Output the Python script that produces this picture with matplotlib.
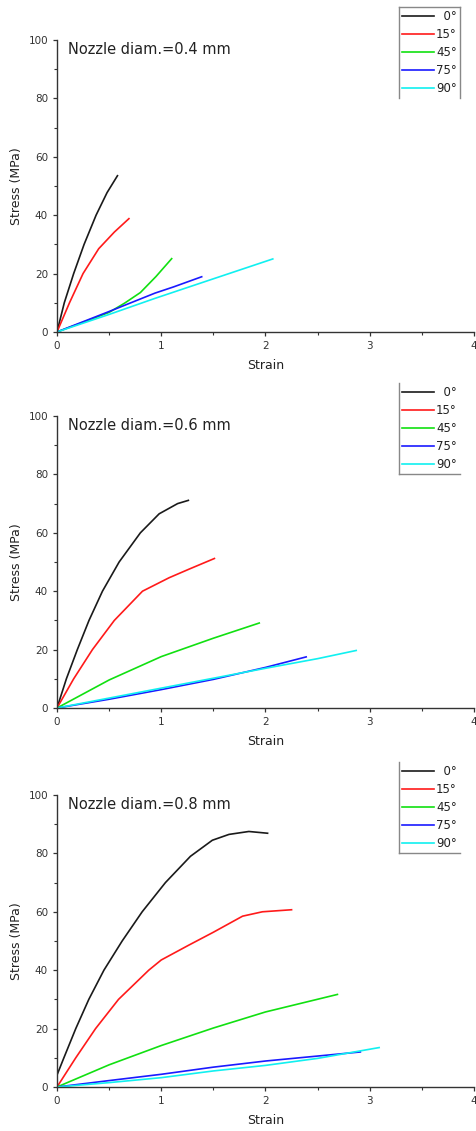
import matplotlib
matplotlib.use('Agg')
import matplotlib.pyplot as plt
from matplotlib.lines import Line2D
from matplotlib.ticker import MultipleLocator

plt.rcParams['font.family'] = ['DejaVu Sans']

angles = ['0°', '15°', '45°', '75°', '90°']
nozzles = ['0.4', '0.6', '0.8']

# nozzle 0.4 mm: strain / stress (MPa) per raster angle
eps_04 = [
    [0, 0.07, 0.16, 0.26, 0.375, 0.48, 0.58],
    [0, 0.12, 0.25, 0.4, 0.55, 0.69],
    [0, 0.25, 0.5, 0.65, 0.8, 0.95, 1.10],
    [0, 0.25, 0.5, 0.94, 1.116, 1.388],
    [0, 0.5, 0.94, 1.5, 2.07],
]
sig_04 = [
    [0, 10, 20, 30, 40, 47.7, 53.5],
    [0, 10, 20, 28.5, 34.2, 38.8],
    [0, 3.3, 6.7, 9.9, 13.5, 19.0, 25.1],
    [0, 3.5, 7.0, 13.3, 15.4, 18.9],
    [0, 6.0, 11.5, 18.2, 25.0],
]

# nozzle 0.6 mm
eps_06 = [
    [0, 0.09, 0.195, 0.307, 0.436, 0.596, 0.80, 0.98, 1.157, 1.26],
    [0, 0.16, 0.34, 0.55, 0.82, 1.075, 1.27, 1.51],
    [0, 0.5, 1.0, 1.5, 1.94],
    [0, 0.5, 1.0, 1.5, 2.0, 2.39],
    [0, 0.5, 1.0, 1.5, 2.0, 2.5, 2.87],
]
sig_06 = [
    [0, 10, 20, 30, 40, 50, 60, 66.5, 70, 71.1],
    [0, 10, 20, 30, 40, 44.6, 47.6, 51.2],
    [0, 9.6, 17.6, 23.9, 29.1],
    [0, 3.0, 6.3, 9.8, 13.9, 17.5],
    [0, 3.4, 6.8, 10.2, 13.6, 16.9, 19.7],
]

# nozzle 0.8 mm
eps_08 = [
    [0, 0.066, 0.18, 0.305, 0.45, 0.625, 0.817, 1.04, 1.28, 1.49, 1.65, 1.84, 2.02],
    [0, 0.18, 0.37, 0.59, 0.88, 1.0, 1.26, 1.5, 1.78, 1.97, 2.25],
    [0, 0.5, 1.0, 1.5, 2.0, 2.69],
    [0, 0.5, 1.0, 1.5, 2.0, 2.5, 2.91],
    [0, 0.5, 1.0, 1.5, 2.0, 2.5, 3.09],
]
sig_08 = [
    [4.1, 10, 20, 30, 40, 50, 60, 70, 79, 84.5, 86.5, 87.5, 86.9],
    [0, 10, 20, 30, 40, 43.5, 48.5, 53, 58.5, 60, 60.7],
    [0, 7.6, 14.2, 20.2, 25.7, 31.7],
    [0, 2.2, 4.35, 6.8, 8.9, 10.6, 12.0],
    [0, 1.5, 3.2, 5.5, 7.4, 9.8, 13.5],
]

colors = ['#1a1a1a', '#ff1a1a', '#11e011', '#1a1aff', '#11f0f0']

panels = [(eps_04, sig_04), (eps_06, sig_06), (eps_08, sig_08)]
bottoms = [0.7065, 0.3740, 0.0389]
# which sides of the legend box are drawn in each panel
legend_sides = [('left', 'top', 'right'), ('left', 'bottom'), ('left', 'bottom')]

fig = plt.figure(figsize=(4.77, 11.31), dpi=100)

legends = []
for i, (eps, sig) in enumerate(panels):
    ax = fig.add_axes([0.1195, bottoms[i], 0.8742, 0.2582])
    handles = []
    for k in range(len(angles)):
        h, = ax.plot(eps[k], sig[k], color=colors[k], lw=1.2)
        handles.append(h)

    ax.set_xlim(0, 4)
    ax.set_ylim(0, 100)
    ax.xaxis.set_major_locator(MultipleLocator(1))
    ax.xaxis.set_minor_locator(MultipleLocator(0.5))
    ax.yaxis.set_major_locator(MultipleLocator(20))
    ax.yaxis.set_minor_locator(MultipleLocator(10))
    for side in ['top', 'right']:
        ax.spines[side].set_visible(False)
    for side in ['left', 'bottom']:
        ax.spines[side].set_color('#333333')
        ax.spines[side].set_linewidth(1.0)
    ax.tick_params(which='major', direction='out', length=3, width=0.9,
                   color='#333333', labelsize=7.5, labelcolor='#333333', pad=3.5)
    ax.tick_params(which='minor', direction='out', length=2, width=0.8,
                   color='#333333')
    ax.set_xlabel('Strain', fontsize=9, color='#222222', labelpad=6)
    ax.set_ylabel('Stress (MPa)', fontsize=9, color='#222222', labelpad=4)

    ax.text(0.027, 0.968, 'Nozzle diam.=%s mm' % nozzles[i],
            transform=ax.transAxes, fontsize=10.5, color='#222222',
            ha='left', va='center')

    labels = [a.rjust(3, '\u2007') for a in angles]
    leg = ax.legend(handles, labels, loc='upper right',
                    bbox_to_anchor=(0.966, 1.113), frameon=False,
                    fontsize=8.5, handlelength=2.7, handletextpad=0.2,
                    labelspacing=0.43, borderpad=0.25, borderaxespad=0)
    for t in leg.get_texts():
        t.set_color('#222222')
    legends.append(leg)

fig.canvas.draw()
inv = fig.transFigure.inverted()
for leg, sides in zip(legends, legend_sides):
    bb = leg.get_window_extent().transformed(inv)
    x0, y0, x1, y1 = bb.x0, bb.y0, bb.x1, bb.y1
    segs = {
        'left': ([x0, x0], [y0, y1]),
        'right': ([x1, x1], [y0, y1]),
        'top': ([x0, x1], [y1, y1]),
        'bottom': ([x0, x1], [y0, y0]),
    }
    for s in sides:
        xs, ys = segs[s]
        fig.add_artist(Line2D(xs, ys, transform=fig.transFigure,
                              color='#888888', lw=1.0))

fig.savefig('out.png', dpi=100)
